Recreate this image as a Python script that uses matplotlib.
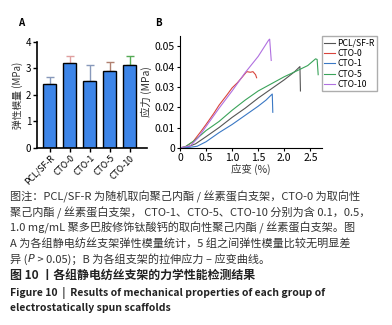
import matplotlib
matplotlib.use("Agg")
import matplotlib.pyplot as plt

plt.rcParams['font.family'] = ['Noto Sans CJK SC', 'DejaVu Sans']

# panel A data
groups = ["PCL/SF-R", "CTO-0", "CTO-1", "CTO-5", "CTO-10"]
modulus = [2.40, 3.22, 2.52, 2.92, 3.13]
modulus_err = [0.28, 0.24, 0.60, 0.33, 0.33]
err_colors = ["#8899bb", "#e0a0a0", "#8899bb", "#b08070", "#55aa55"]

# panel B data (strain %, stress MPa)
pcl_x = [0, 0.15, 0.3, 0.5, 0.75, 1.0, 1.25, 1.5, 1.75, 2.0, 2.2, 2.3, 2.31]
pcl_y = [0, 0.0005, 0.002, 0.0055, 0.0100, 0.0150, 0.0195, 0.0245, 0.0290, 0.0335, 0.0375, 0.0400, 0.0280]
cto0_x = [0, 0.1, 0.25, 0.4, 0.5, 0.65, 0.75, 0.9, 1.0, 1.1, 1.2, 1.28, 1.35, 1.4, 1.45, 1.47]
cto0_y = [0, 0.0005, 0.003, 0.008, 0.0115, 0.017, 0.021, 0.026, 0.0295, 0.032, 0.035, 0.0375, 0.0372, 0.0375, 0.036, 0.0345]
cto1_x = [0, 0.2, 0.33, 0.5, 0.75, 1.0, 1.25, 1.5, 1.65, 1.75, 1.77, 1.78]
cto1_y = [0, 0.0003, 0.0008, 0.003, 0.0075, 0.0115, 0.0160, 0.0205, 0.0235, 0.0260, 0.0265, 0.0175]
cto5_x = [0, 0.1, 0.3, 0.5, 0.75, 1.0, 1.25, 1.5, 1.75, 2.0, 2.25, 2.45, 2.6, 2.63, 2.65]
cto5_y = [0, 0.0005, 0.004, 0.0085, 0.013, 0.0185, 0.0235, 0.028, 0.0315, 0.035, 0.038, 0.0405, 0.0438, 0.0435, 0.036]
cto10_x = [0, 0.2, 0.35, 0.5, 0.75, 1.0, 1.25, 1.5, 1.6, 1.7, 1.72, 1.75]
cto10_y = [0, 0.001, 0.005, 0.0105, 0.0195, 0.028, 0.037, 0.045, 0.049, 0.053, 0.0535, 0.043]

curves = [
    ("PCL/SF-R", pcl_x, pcl_y, "#555555"),
    ("CTO-0", cto0_x, cto0_y, "#d9443c"),
    ("CTO-1", cto1_x, cto1_y, "#3a78c4"),
    ("CTO-5", cto5_x, cto5_y, "#3aa35a"),
    ("CTO-10", cto10_x, cto10_y, "#b070e0"),
]

fig = plt.figure(figsize=(3.92, 3.25), dpi=100)

# ---- panel A
axA = fig.add_axes([0.094, 0.545, 0.281, 0.326])
xs = range(len(groups))
axA.bar(xs, modulus, width=0.65, color="#3d85e8", edgecolor="black", linewidth=1.0, zorder=2)
for i in xs:
    axA.errorbar(i, modulus[i], yerr=[[0], [modulus_err[i]]], color=err_colors[i],
                 capsize=3, elinewidth=1, capthick=1, zorder=1)
axA.set_xlim(-0.65, 4.85)
axA.set_ylim(0, 4)
axA.set_yticks([0, 1, 2, 3, 4])
axA.set_xticks(list(xs))
axA.set_xticklabels(groups, rotation=45, ha="right", rotation_mode="anchor", fontsize=6.3)
axA.tick_params(axis="y", labelsize=7, length=3, width=1, pad=1)
axA.tick_params(axis="x", length=3, width=1, pad=1)
axA.spines["top"].set_visible(False)
axA.spines["right"].set_visible(False)
axA.spines["left"].set_linewidth(1.2)
axA.spines["bottom"].set_linewidth(1.2)
axA.set_ylabel("弹性模量 (MPa)", fontsize=7, labelpad=2, color="#333333")
fig.text(18 / 392, 1 - 23 / 325, "A", fontsize=7, fontweight="bold", va="center")

# ---- panel B
axB = fig.add_axes([0.459, 0.545, 0.362, 0.344])
for name, x, y, c in curves:
    axB.plot(x, y, color=c, lw=0.8, label=name)
axB.set_xlim(0, 2.72)
axB.set_ylim(0, 0.055)
axB.set_xticks([0, 0.5, 1.0, 1.5, 2.0, 2.5])
axB.set_xticklabels(["0", "0.5", "1.0", "1.5", "2.0", "2.5"])
axB.set_yticks([0, 0.01, 0.02, 0.03, 0.04, 0.05])
axB.set_yticklabels(["0", "0.01", "0.02", "0.03", "0.04", "0.05"])
axB.tick_params(labelsize=7.5, length=2.5, width=0.8, pad=1)
for lab in axB.get_xticklabels() + axB.get_yticklabels():
    lab.set_fontweight("medium")
axB.spines["top"].set_visible(False)
axB.spines["right"].set_visible(False)
axB.set_ylabel("应力 (MPa)", fontsize=7.5, labelpad=2, color="#333333")
axB.set_xlabel("应变 (%)", fontsize=7.5, labelpad=1, color="#333333")
axB.legend(loc="upper left", bbox_to_anchor=(1.0, 1.0), fontsize=6.2, frameon=True,
           fancybox=False, edgecolor="#999999", handlelength=1.2, handletextpad=0.3,
           borderpad=0.3, labelspacing=0.15, borderaxespad=0.0)
fig.text(155 / 392, 1 - 23 / 325, "B", fontsize=7, fontweight="bold", va="center")

# ---- caption
tc = "#333333"
fs = 8.0
lines = [
    "图注：PCL/SF-R 为随机取向聚己内酯 / 丝素蛋白支架，CTO-0 为取向性",
    "聚己内酯 / 丝素蛋白支架， CTO-1、CTO-5、CTO-10 分别为含 0.1，0.5，",
    "1.0 mg/mL 聚多巴胺修饰钛酸钙的取向性聚己内酯 / 丝素蛋白支架。图",
    "A 为各组静电纺丝支架弹性模量统计，5 组之间弹性模量比较无明显差",
]
ys = [197, 213, 228, 244, 259, 275, 293, 308]
for t, yy in zip(lines, ys):
    fig.text(10 / 392, 1 - yy / 325, t, fontsize=fs, color=tc, va="center")

t1 = fig.text(10 / 392, 1 - ys[4] / 325, "异 (", fontsize=fs, color=tc, va="center")
t2 = fig.text(0, 0, "P", fontsize=fs, color=tc, va="center", style="italic",
              family="DejaVu Sans", transform=None)
fig.canvas.draw()
r = fig.canvas.get_renderer()
bb = t1.get_window_extent(r)
t2.set_x(bb.x1)
t2.set_y(bb.y0 + bb.height / 2)
bb2 = t2.get_window_extent(r)
fig.text(bb2.x1 / fig.bbox.width + 0.003, 1 - ys[4] / 325, " > 0.05)；B 为各组支架的拉伸应力 – 应变曲线。",
         fontsize=fs, color=tc, va="center")

fig.text(10 / 392, 1 - ys[5] / 325, "图 10 丨各组静电纺丝支架的力学性能检测结果",
         fontsize=8.6, color="#222222", fontweight="bold", va="center")
fig.text(10 / 392, 1 - ys[6] / 325, "Figure 10  |  Results of mechanical properties of each group of",
         fontsize=7.5, color="#222222", fontweight="bold", va="center")
fig.text(10 / 392, 1 - ys[7] / 325, "electrostatically spun scaffolds",
         fontsize=7.5, color="#222222", fontweight="bold", va="center")

fig.savefig("out.png", dpi=100)
